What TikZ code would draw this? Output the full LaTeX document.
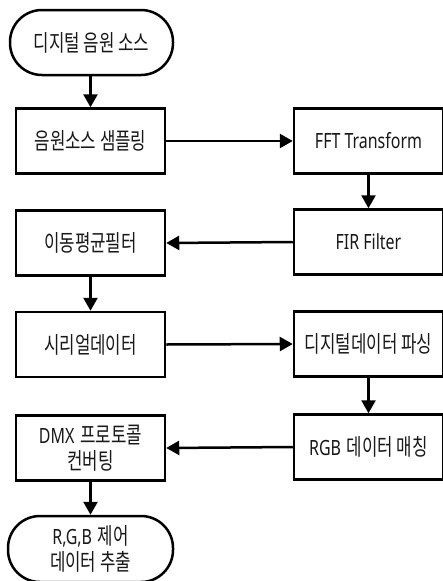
\documentclass[tikz,border=0pt]{standalone}
\usepackage{fontspec}
\newfontfamily\kr[FakeStretch=0.73]{Noto Sans CJK KR}
\newfontfamily\lat[FakeStretch=0.76]{Noto Sans}
\usetikzlibrary{arrows.meta}
\newcommand{\Lt}[1]{{\lat\fontsize{21}{26}\selectfont #1}}
\begin{document}
\begin{tikzpicture}[x=1pt,y=-1pt,
  every node/.style={font=\kr\fontsize{23}{26}\selectfont, text=black!90},
  box/.style={draw, line width=2.5pt, minimum width=149pt, minimum height=65pt, inner sep=0pt, align=center},
  term/.style={box, rounded corners=32pt},
  conn/.style={line width=2.5pt, -{Triangle[length=13pt,width=14pt]}}]
\useasboundingbox (0,0) rectangle (442,581);
\fill[white] (0,0) rectangle (442,581);
\node[term, minimum width=163pt] (t1) at (91.5,42.5) {디지털 음원 소스};
\node[box] (b1) at (90.5,141) {음원소스 샘플링};
\node[box] (b2) at (90.5,243) {이동평균필터};
\node[box] (b3) at (90.5,344.5) {시리얼데이터};
\node[box] (b4) at (90.5,448) {\Lt{DMX}\hspace{2pt} 프로토콜\\컨버팅};
\node[term, minimum width=165pt, minimum height=66pt] (t2) at (90.5,549) {\Lt{R,G,B}\hspace{2pt} 제어\\데이터 추출};
\node[box] (r1) at (368.5,141) {\Lt{FFT Transform}};
\node[box] (r2) at (368.5,242) {\Lt{FIR Filter}};
\node[box] (r3) at (368.5,344) {디지털데이터 파싱};
\node[box] (r4) at (368.5,447) {\Lt{RGB}\hspace{2pt} 데이터 매칭};
\draw[conn] (t1.south -| b1.north) -- (b1.north);
\draw[conn] (b1.east) -- (r1.west);
\draw[conn] (r1.south) -- (r2.north);
\draw[conn] (r2.west) -- (b2.east);
\draw[conn] (b2.south) -- (b3.north);
\draw[conn] (b3.east) -- (r3.west);
\draw[conn] (r3.south) -- (r4.north);
\draw[conn] (r4.west) -- (b4.east);
\draw[conn] (b4.south) -- (t2.north);
\end{tikzpicture}
\end{document}
